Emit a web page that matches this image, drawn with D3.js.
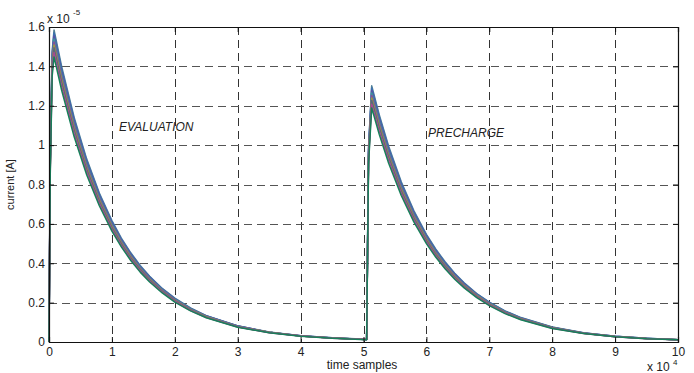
<!DOCTYPE html>
<html>
<head>
<meta charset="utf-8">
<script src="https://cdn.jsdelivr.net/npm/d3@7"></script>
<style>
  body { margin: 0; background: #fff; }
  text { font-family: "Liberation Sans", Arial, sans-serif; fill: #222; }
</style>
</head>
<body>
<svg id="chart" width="694" height="373"></svg>
<script>
// time samples (x 10^4)
var samples = [0, 0.02, 0.05, 0.08, 0.2, 0.4, 0.6, 0.8, 1.0, 1.15, 1.3, 1.45, 1.6, 1.8, 2.0, 2.25, 2.5,
               3.0, 3.5, 4.0, 4.5, 5.05, 5.08, 5.13, 5.25, 5.4, 5.6, 5.8, 6.0, 6.15, 6.3, 6.45, 6.6, 6.8, 7.0, 7.25, 7.5,
               8.0, 8.5, 9.0, 9.5, 10.0];

// current (x 10^-5 A), one array per trace
var trace1 = [0, 0.936, 1.477, 1.585, 1.401, 1.141, 0.929, 0.757, 0.617, 0.528, 0.453, 0.389, 0.334, 0.272, 0.223, 0.173, 0.134,
              0.082, 0.051, 0.032, 0.021, 0.014, 0.988, 1.302, 1.155, 0.994, 0.814, 0.668, 0.547, 0.471, 0.406, 0.349, 0.301, 0.246, 0.203, 0.158, 0.124,
              0.076, 0.047, 0.029, 0.019, 0.012];
var trace2 = [0, 0.927, 1.463, 1.570, 1.387, 1.130, 0.920, 0.750, 0.611, 0.523, 0.449, 0.385, 0.331, 0.270, 0.220, 0.171, 0.133,
              0.081, 0.050, 0.032, 0.021, 0.013, 0.979, 1.290, 1.144, 0.985, 0.806, 0.661, 0.542, 0.467, 0.402, 0.346, 0.298, 0.244, 0.201, 0.157, 0.123,
              0.075, 0.046, 0.029, 0.019, 0.012];
var trace3 = [0, 0.918, 1.448, 1.554, 1.374, 1.119, 0.911, 0.743, 0.605, 0.518, 0.445, 0.381, 0.327, 0.267, 0.218, 0.169, 0.132,
              0.081, 0.050, 0.032, 0.020, 0.013, 0.969, 1.277, 1.133, 0.975, 0.799, 0.655, 0.537, 0.462, 0.398, 0.343, 0.295, 0.242, 0.199, 0.155, 0.121,
              0.074, 0.046, 0.029, 0.018, 0.012];
var trace4 = [0, 0.909, 1.434, 1.539, 1.360, 1.108, 0.902, 0.735, 0.599, 0.513, 0.440, 0.378, 0.324, 0.265, 0.216, 0.168, 0.130,
              0.080, 0.049, 0.031, 0.020, 0.013, 0.960, 1.265, 1.122, 0.966, 0.791, 0.648, 0.531, 0.458, 0.394, 0.339, 0.292, 0.239, 0.197, 0.154, 0.120,
              0.074, 0.045, 0.028, 0.018, 0.012];
var trace5 = [0, 0.900, 1.420, 1.524, 1.347, 1.097, 0.893, 0.728, 0.593, 0.508, 0.436, 0.374, 0.321, 0.262, 0.214, 0.166, 0.129,
              0.079, 0.049, 0.031, 0.020, 0.013, 0.950, 1.252, 1.111, 0.956, 0.783, 0.642, 0.526, 0.453, 0.390, 0.336, 0.289, 0.237, 0.195, 0.152, 0.119,
              0.073, 0.045, 0.028, 0.018, 0.012];
var trace6 = [0, 0.891, 1.406, 1.509, 1.334, 1.086, 0.884, 0.721, 0.587, 0.503, 0.432, 0.370, 0.318, 0.259, 0.212, 0.164, 0.128,
              0.078, 0.049, 0.031, 0.020, 0.013, 0.941, 1.239, 1.100, 0.946, 0.775, 0.636, 0.521, 0.448, 0.386, 0.333, 0.286, 0.235, 0.193, 0.150, 0.118,
              0.072, 0.045, 0.028, 0.018, 0.012];
var trace7 = [0, 0.882, 1.392, 1.494, 1.320, 1.075, 0.875, 0.713, 0.581, 0.498, 0.427, 0.367, 0.315, 0.257, 0.210, 0.163, 0.126,
              0.077, 0.048, 0.030, 0.020, 0.013, 0.931, 1.227, 1.089, 0.937, 0.767, 0.629, 0.515, 0.444, 0.382, 0.329, 0.283, 0.232, 0.191, 0.149, 0.117,
              0.072, 0.044, 0.027, 0.018, 0.012];
var trace8 = [0, 0.869, 1.370, 1.471, 1.300, 1.059, 0.862, 0.703, 0.572, 0.490, 0.421, 0.361, 0.310, 0.253, 0.207, 0.160, 0.124,
              0.076, 0.047, 0.030, 0.019, 0.013, 0.917, 1.208, 1.072, 0.923, 0.756, 0.620, 0.508, 0.437, 0.376, 0.324, 0.279, 0.229, 0.188, 0.147, 0.115,
              0.070, 0.043, 0.027, 0.017, 0.012];
var trace9 = [0, 0.855, 1.349, 1.448, 1.280, 1.042, 0.848, 0.692, 0.563, 0.483, 0.414, 0.355, 0.305, 0.249, 0.203, 0.158, 0.123,
              0.075, 0.047, 0.029, 0.019, 0.012, 0.903, 1.189, 1.055, 0.908, 0.744, 0.610, 0.500, 0.430, 0.371, 0.319, 0.275, 0.225, 0.185, 0.144, 0.113,
              0.069, 0.043, 0.027, 0.017, 0.011];

var traceColors = ["#4f7f96", "#3c6fb0", "#5a50a8", "#3a9a9a", "#8a4a9a", "#9a9a40", "#5a6a7a", "#a84a90", "#17805a"];

var xTicks = [0, 1, 2, 3, 4, 5, 6, 7, 8, 9, 10];
var yTicks = [0, 0.2, 0.4, 0.6, 0.8, 1.0, 1.2, 1.4, 1.6];
var yTickLabels = ["0", "0.2", "0.4", "0.6", "0.8", "1", "1.2", "1.4", "1.6"];

var svg = d3.select("#chart"),
	margin = {top: 27, right: 16, bottom: 31, left: 49},
	width = +svg.attr("width") - margin.left - margin.right,
	height = +svg.attr("height") - margin.top - margin.bottom;

var x = d3.scaleLinear().domain([0, 10]).range([0, width]);
var y = d3.scaleLinear().domain([0, 1.6]).range([height, 0]);

var g = svg.append("g").attr("transform", "translate(" + margin.left + "," + margin.top + ")");

// dashed grid
var grid = g.append("g").attr("class", "grid");
grid.selectAll(".vgrid")
	.data(xTicks.slice(1, -1))
	.enter().append("line")
	.attr("x1", function(d) { return Math.round(x(d)) + 0.5; })
	.attr("x2", function(d) { return Math.round(x(d)) + 0.5; })
	.attr("y1", 0)
	.attr("y2", height)
	.attr("stroke", "#333")
	.attr("stroke-dasharray", "8,5");
grid.selectAll(".hgrid")
	.data(yTicks.slice(1, -1))
	.enter().append("line")
	.attr("x1", 0)
	.attr("x2", width)
	.attr("y1", function(d) { return Math.round(y(d)) + 0.5; })
	.attr("y2", function(d) { return Math.round(y(d)) + 0.5; })
	.attr("stroke", "#555")
	.attr("stroke-dasharray", "8,5");

// traces
var traces = [trace1, trace2, trace3, trace4, trace5, trace6, trace7, trace8, trace9];
var line = d3.line()
	.x(function(d, i) { return x(samples[i]); })
	.y(function(d) { return y(d); });

g.append("g").selectAll("path")
	.data(traces)
	.enter().append("path")
	.attr("d", line)
	.attr("fill", "none")
	.attr("stroke", function(d, i) { return traceColors[i]; })
	.attr("stroke-width", 1.5)
	.attr("stroke-linejoin", "round");

// axes, MATLAB style ticks pointing inward
var xAxis = d3.axisBottom(x).tickValues(xTicks).tickSize(-5).tickPadding(5).tickFormat(d3.format("d"));
var yAxis = d3.axisLeft(y).tickValues(yTicks).tickSize(-5).tickPadding(4)
	.tickFormat(function(d, i) { return yTickLabels[i]; });

g.append("g").attr("transform", "translate(0," + height + ")").call(xAxis);
g.append("g").call(yAxis);
g.append("g").call(d3.axisTop(x).tickValues(xTicks).tickSize(-5).tickFormat(""));
g.append("g").attr("transform", "translate(" + width + ",0)")
	.call(d3.axisRight(y).tickValues(yTicks).tickSize(-5).tickFormat(""));

g.selectAll(".domain").attr("stroke", "#111").attr("stroke-width", 1.2);
g.selectAll(".tick line").attr("stroke", "#111");
g.selectAll(".tick text").attr("font-size", 12).attr("fill", "#222")
	.attr("font-family", "'Liberation Sans', Arial, sans-serif");

// exponent labels
svg.append("text").attr("x", 47).attr("y", 23).attr("font-size", 12).text("x 10");
svg.append("text").attr("x", 73).attr("y", 15).attr("font-size", 8).text("-5");
svg.append("text").attr("x", 647).attr("y", 371).attr("font-size", 12).text("x 10");
svg.append("text").attr("x", 673).attr("y", 365).attr("font-size", 8).text("4");

// axis titles
svg.append("text")
	.attr("transform", "translate(14," + (margin.top + height / 2) + ") rotate(-90)")
	.attr("text-anchor", "middle")
	.attr("font-size", 11)
	.text("current [A]");
svg.append("text")
	.attr("x", 362)
	.attr("y", 369)
	.attr("text-anchor", "middle")
	.attr("font-size", 12)
	.text("time samples");

// phase annotations
svg.append("text").attr("x", 119).attr("y", 131).attr("font-size", 12)
	.attr("font-style", "italic").text("EVALUATION");
svg.append("text").attr("x", 428).attr("y", 137).attr("font-size", 12)
	.attr("font-style", "italic").text("PRECHARGE");
</script>
</body>
</html>
